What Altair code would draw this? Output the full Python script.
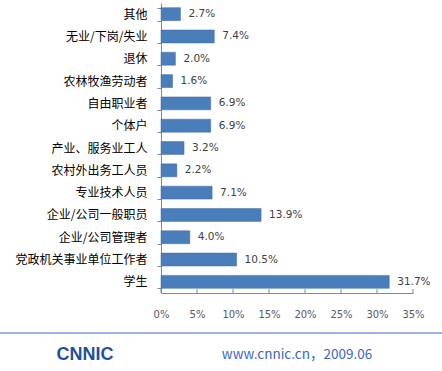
import altair as alt
import pandas as pd

categories = ["其他", "无业/下岗/失业", "退休", "农林牧渔劳动者", "自由职业者", "个体户",
              "产业、服务业工人", "农村外出务工人员", "专业技术人员", "企业/公司一般职员",
              "企业/公司管理者", "党政机关事业单位工作者", "学生"]
values = [2.7, 7.4, 2.0, 1.6, 6.9, 6.9, 3.2, 2.2, 7.1, 13.9, 4.0, 10.5, 31.7]
tick_values = [0, 5, 10, 15, 20, 25, 30, 35]

df = pd.DataFrame({"cat": categories, "v": [v / 100 for v in values]})
ticks_df = pd.DataFrame({"t": [t / 100 for t in tick_values]})

W, H = 252, 290

xscale = alt.Scale(domain=[0, 0.35], nice=False, zero=True)
yscale = alt.Scale(domain=categories, paddingInner=0.42, paddingOuter=0.21)

x_axis = alt.Axis(values=[t / 100 for t in tick_values], format=".0%", title=None,
                  grid=False, ticks=False, domainColor="#868686",
                  labelColor="#595959", labelFontSize=10, labelPadding=16,
                  labelOverlap=False, labelFlush=False, labelFont="DejaVu Sans")
y_axis = alt.Axis(title=None, tickBand="extent", tickSize=4, tickColor="#868686",
                  domainColor="#868686", labelColor="#000000", labelFontSize=12,
                  labelPadding=10, labelFont="Noto Sans CJK SC", labelLimit=200)

base = alt.Chart(df)

bars = base.mark_bar(color="#4A7EBB", stroke="#3B6AA8", strokeWidth=0.5).encode(
    x=alt.X("v:Q", scale=xscale, axis=x_axis),
    y=alt.Y("cat:N", scale=yscale, sort=categories, axis=y_axis),
)

labels = base.mark_text(align="left", baseline="middle", dx=8, fontSize=10.5,
                        color="#404040", font="DejaVu Sans").encode(
    x=alt.X("v:Q", scale=xscale, axis=x_axis),
    y=alt.Y("cat:N", scale=yscale, sort=categories, axis=y_axis),
    text=alt.Text("v:Q", format=".1%"),
)

xticks = alt.Chart(ticks_df).mark_rule(color="#868686", strokeWidth=1).encode(
    x=alt.X("t:Q", scale=xscale, axis=x_axis),
    y=alt.value(H - 4),
    y2=alt.value(H),
)

footer_line = alt.Chart(pd.DataFrame({"a": [0]})).mark_rule(color="#9DB2DC", strokeWidth=2).encode(
    x=alt.value(-161), x2=alt.value(281), y=alt.value(330)
)

logo = alt.Chart(pd.DataFrame({"a": ["CNNIC"]})).mark_text(
    fontSize=18, fontWeight="bold", color="#1F4FA0", font="Liberation Sans", align="center",
    baseline="middle"
).encode(x=alt.value(-76), y=alt.value(352), text="a:N")

url = alt.Chart(pd.DataFrame({"a": ["www.cnnic.cn，2009.06"]})).mark_text(
    fontSize=13.5, color="#3A67C6", font="Noto Sans CJK SC", align="center", baseline="middle"
).encode(x=alt.value(136), y=alt.value(352), text="a:N")

chart = alt.layer(bars, labels, xticks, footer_line, logo, url).properties(
    width=W, height=H,
    autosize=alt.AutoSizeParams(type="none"),
    padding={"left": 161, "top": 3, "right": 29, "bottom": 78},
    background="white",
).configure_view(stroke=None)

chart.save("out.html", embed_options={"renderer": "svg", "actions": False})
